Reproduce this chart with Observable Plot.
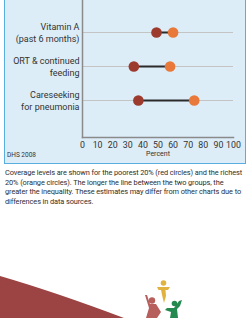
<!DOCTYPE html>
<html><head><meta charset="utf-8">
<script src="https://cdn.jsdelivr.net/npm/d3@7"></script>
<script src="https://cdn.jsdelivr.net/npm/@observablehq/plot@0.6"></script>
<style>
html,body{margin:0;padding:0;background:#fff;width:249px;height:318px;overflow:hidden;position:relative;font-family:Roboto,"Open Sans",sans-serif;}
#panel{position:absolute;left:4px;top:-2px;width:240px;height:165px;background:#dcedf8;border-left:1.5px solid #5aaedf;border-right:1.5px solid #5aaedf;border-bottom:1.5px solid #5aaedf;}
#chart{position:absolute;left:0;top:0;}
#src{position:absolute;left:7px;top:151px;font-size:6.5px;color:#333;}
#cap{position:absolute;left:5px;top:168px;font-size:7.4px;line-height:9.7px;color:#2e2e2e;white-space:nowrap;letter-spacing:-0.1px;}
#deco{position:absolute;left:0;top:0;}
</style></head>
<body>
<div id="panel"></div>
<div id="chart"></div>
<div id="src">DHS 2008</div>
<div id="cap">Coverage levels are shown for the poorest 20% (red circles) and the richest<br>20% (orange circles). The longer the line between the two groups, the<br>greater the inequality. These estimates may differ from other charts due to<br>differences in data sources.</div>
<svg id="deco" width="249" height="318">
  <path d="M0,276 Q55,292 124,318 L0,318 Z" fill="#9c4343"/>
  <g fill="#e2b23e">
    <circle cx="163.5" cy="283" r="2.8"/>
    <path d="M157,287 L170,287 L168,290 L165.5,290 L166,296 L164,303 L162.5,297 L161,290 L158.5,290 Z"/>
  </g>
  <g fill="#b65f5c">
    <circle cx="152" cy="300.5" r="3.2"/>
    <path d="M145,295 L147,295 L150,304 L156,304 L161,312 L157,318 L146,318 L149,308 Z"/>
  </g>
  <g fill="#24894f">
    <circle cx="174.5" cy="303.5" r="2.8"/>
    <path d="M182,300 L180,306 L177,309 L178,318 L170,318 L171,312 L165,310 L167,308 L174,308 L179,301 Z"/>
  </g>
</svg>
<script>
const categories = ["Vitamin A\n(past 6 months)", "ORT & continued\nfeeding", "Careseeking\nfor pneumonia"];
const poorest = [49, 34, 37];
const richest = [60, 58, 74];
const xTicks = [0, 10, 20, 30, 40, 50, 60, 70, 80, 90, 100];
const axisTitle = "Percent";

const rows = categories.map((c, i) => ({cat: c, poor: poorest[i], rich: richest[i]}));

const chart = Plot.plot({
  width: 249,
  height: 165,
  marginLeft: 82,
  marginRight: 16,
  marginTop: 0,
  marginBottom: 28,
  style: {background: "transparent", fontFamily: "Roboto,'Open Sans',sans-serif", color: "#333"},
  x: {domain: [0, 100]},
  y: {type: "point", domain: categories, range: [31, 100], padding: 0},
  marks: [
    Plot.ruleY(rows, {y: "cat", stroke: "#c4c4c4", strokeWidth: 1}),
    Plot.frame({anchor: "left", stroke: "#8a8a8a", strokeWidth: 1.5}),
    Plot.frame({anchor: "bottom", stroke: "#8a8a8a", strokeWidth: 1.5}),
    Plot.axisY({tickSize: 0, tickPadding: 3, fontSize: 9, label: null, lineHeight: 1.3}),
    Plot.axisX({ticks: xTicks, tickSize: 0, tickPadding: 4, fontSize: 8.8, label: null}),
    Plot.text([axisTitle], {frameAnchor: "bottom", dy: 18.5, fontSize: 7, fill: "#333"}),
    Plot.link(rows, {x1: "poor", x2: "rich", y1: "cat", y2: "cat", stroke: "#2b2b2b", strokeWidth: 2}),
    Plot.dot(rows, {x: "poor", y: "cat", r: 5.3, fill: "#9c3a2e"}),
    Plot.dot(rows, {x: "rich", y: "cat", r: 5.3, fill: "#e9793a"})
  ]
});
document.getElementById("chart").appendChild(chart);
</script>
</body></html>
